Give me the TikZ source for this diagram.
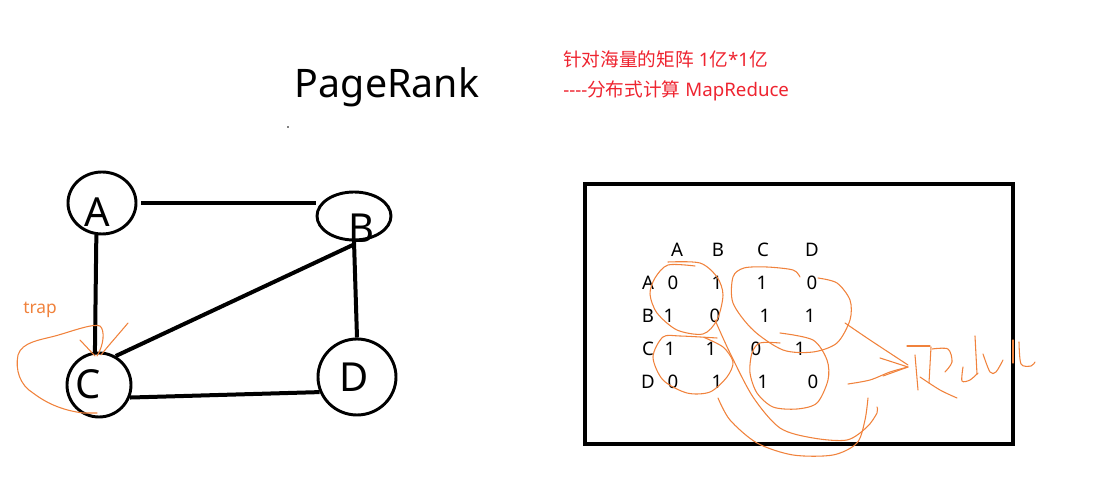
\documentclass[tikz,border=0pt]{standalone}
\usepackage{fontspec}
\setmainfont{Noto Sans}
\newfontfamily\cjk{Noto Sans CJK SC}
\usetikzlibrary{shapes.geometric,calc}
\definecolor{redtxt}{RGB}{238,36,48}
\definecolor{scrib}{RGB}{240,130,60}
\tikzset{
  vert/.style={draw,ellipse,line width=2.2pt,inner sep=0pt},
  letter/.style={inner sep=0pt,font=\fontsize{30}{36}\selectfont},
  edge/.style={line width=3pt},
  mtx/.style={inner sep=0pt,font=\fontsize{14}{17}\selectfont},
  redline/.style={inner sep=0pt,anchor=west,text=redtxt,font=\fontsize{14}{16}\selectfont},
  pen/.style={draw=scrib,line width=0.8pt,line cap=round,line join=round}
}
\begin{document}
\begin{tikzpicture}[x=0.75pt,y=-0.75pt]
\useasboundingbox (0,0) rectangle (1108,491);
% title
\node[inner sep=0pt,font=\fontsize{29.5}{35}\selectfont] (title) at (387,87) {PageRank};
\fill (288,127) circle (0.6pt);
\node[redline] (r1) at (563,59) {{\cjk 针对海量的矩阵} 1{\cjk 亿}*1{\cjk 亿}};
\node[redline] (r2) at (563,91) {-{}-{}-{}-{\cjk 分布式计算} MapReduce};
% graph
\node[vert,minimum width=51pt,minimum height=46.5pt] (A) at (102,203) {};
\node[vert,minimum width=55.5pt,minimum height=36pt] (B) at (354,216) {};
\node[vert,minimum width=48pt,minimum height=48pt] (C) at (99,385) {};
\node[vert,minimum width=58.5pt,minimum height=57pt] (D) at (357,377) {};
\node[letter] (lA) at (97,212) {A};
\node[letter] (lB) at (361,228) {B};
\node[letter] (lC) at (88,384) {C};
\node[letter] (lD) at (354,377) {D};
\draw[edge] ($(A.east)+(4,0)$) -- (B.west|-A.east);
\draw[edge] (A.260) -- (C.97);
\draw[edge] (B.south) -- (D.north);
\draw[edge] (C.60) -- ($(B.south)+(0,3)$);
\draw[edge] (C.-22) -- (D.202);
% trap
\node[inner sep=0pt,text=scrib,font=\fontsize{13}{15}\selectfont] (trap) at (40,310) {trap};
\draw[pen] (97,356) .. controls (104,345) and (105,330) .. (100,326) .. controls (93,323) and (70,332) .. (55,336) .. controls (40,340) and (22,342) .. (18,355) .. controls (15,370) and (20,385) .. (33,393) .. controls (45,402) and (60,410) .. (83,413) -- (97,413);
\draw[pen] (80,340) -- (95,356);
\draw[pen] (128,323) .. controls (118,335) and (108,346) .. (101,355);
% matrix box
\node[draw,line width=3.2pt,minimum width=321pt,minimum height=195pt,inner sep=0pt] (box) at (799,314) {};
\foreach \t/\x in {A/677,B/718,C/763,D/812}{\node[mtx] (h\t) at (\x,250) {\t};}
\foreach \t/\y in {A/283,B/316,C/349,D/382}{\node[mtx] (row\t) at (648,\y) {\t};}
\node[mtx] (a1) at (673,283) {0}; \node[mtx] (a2) at (717,283) {1}; \node[mtx] (a3) at (762,283) {1}; \node[mtx] (a4) at (812,283) {0};
\node[mtx] (b1) at (669,316) {1}; \node[mtx] (b2) at (715,316) {0}; \node[mtx] (b3) at (765,316) {1}; \node[mtx] (b4) at (810,316) {1};
\node[mtx] (c1) at (670,349) {1}; \node[mtx] (c2) at (711,349) {1}; \node[mtx] (c3) at (756,349) {0}; \node[mtx] (c4) at (800,349) {1};
\node[mtx] (d1) at (673,382) {0}; \node[mtx] (d2) at (717,382) {1}; \node[mtx] (d3) at (763,382) {1}; \node[mtx] (d4) at (813,382) {0};
% scribbles
\draw[pen] plot[smooth] coordinates {(695,266) (668,265) (655,278) (650,294) (657,313) (677,330) (703,334) (717,320) (723,295) (717,277) (700,263) (668,262)};
\draw[pen] plot[smooth] coordinates {(800,277) (793,270) (767,267) (744,268) (733,277) (733,303) (753,330) (783,350) (813,352) (837,343) (850,320) (850,300) (837,283) (818,278)};
\draw[pen] plot[smooth] coordinates {(717,338) (680,336) (663,337) (653,357) (663,380) (687,393) (710,392) (727,377) (733,362) (723,347) (703,337)};
\draw[pen] plot[smooth] coordinates {(780,333) (813,340) (827,360) (828,380) (817,403) (797,409) (773,407) (757,393) (750,373) (752,353) (760,343) (780,343)};
\draw[pen] plot[smooth] coordinates {(715,320) (730,353) (753,397) (780,428) (813,438) (847,440) (867,427) (877,413) (877,407)};
\draw[pen] plot[smooth] coordinates {(718,398) (730,420) (757,443) (793,455) (833,455) (857,443) (865,420) (868,398)};
\draw[pen] plot[smooth] coordinates {(845,323) (870,340) (908,365)};
\draw[pen] plot[smooth] coordinates {(848,384) (870,380) (890,372) (908,367)};
\draw[pen] (880,358) -- (908,367) -- (883,376);
% "Reduce" handwriting
\draw[pen] (907,346) -- (930,346);
\draw[pen] (915,355) -- (918,390);
\draw[pen] (931,347) -- (929,383);
\draw[pen] plot[smooth] coordinates {(932,349) (948,349) (952,362) (945,372)};
\draw[pen] plot[smooth] coordinates {(920,377) (940,390) (957,398)};
\draw[pen] plot[smooth] coordinates {(963,367) (962,381) (970,380) (978,373)};
\draw[pen] (975,336) -- (977,374);
\draw[pen] plot[smooth] coordinates {(983,354) (990,372) (996,372) (1003,360)};
\draw[pen] (1013,340) -- (1013,363);
\draw[pen] plot[smooth] coordinates {(1019,342) (1021,364) (1031,366) (1035,362)};
\end{tikzpicture}
\end{document}
